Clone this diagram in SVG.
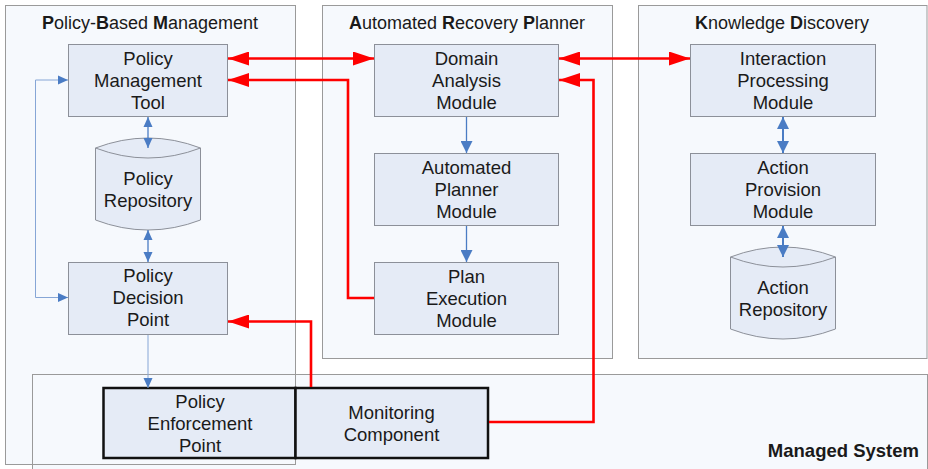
<svg xmlns="http://www.w3.org/2000/svg" width="928" height="469" viewBox="0 0 928 469">
<defs>
<style>
.cont{fill:#f6f9fd;stroke:#9a9a9a;stroke-width:1}
.contline{fill:none;stroke:#9a9a9a;stroke-width:1}
.box{fill:#e5ebf6;stroke:#8c9099;stroke-width:1}
.tbox{fill:#e5ebf6;stroke:#111;stroke-width:2.5}
.cyl{fill:#e5ebf6;stroke:#8c9099;stroke-width:1}
text{font-family:"Liberation Sans",Arial,sans-serif;font-size:18.5px;fill:#1a1a1a;text-anchor:middle}
.title{font-size:18px}
.b{font-weight:bold}
.red{fill:none;stroke:#ff0000;stroke-width:2.6}
.blue{fill:none;stroke:#4a7cc4;stroke-width:1.3}
.blue2{fill:none;stroke:#4a7cc4;stroke-width:2}
.lblue{fill:none;stroke:#86a6d6;stroke-width:1}
</style>
<marker id="rh" markerUnits="userSpaceOnUse" markerWidth="22" markerHeight="14" refX="21" refY="7" orient="auto-start-reverse" viewBox="0 0 22 14">
<path d="M0,0 L21,7 L0,14 Z" fill="#ff0000"/>
</marker>
<marker id="bh" markerUnits="userSpaceOnUse" markerWidth="10" markerHeight="10" refX="10" refY="5" orient="auto-start-reverse" viewBox="0 0 10 10">
<path d="M0,0.5 L10,5 L0,9.5 Z" fill="#4a7cc4"/>
</marker>
<marker id="bh2" markerUnits="userSpaceOnUse" markerWidth="12" markerHeight="12" refX="12" refY="6" orient="auto-start-reverse" viewBox="0 0 12 12">
<path d="M0,0 L12,6 L0,12 Z" fill="#4a7cc4"/>
</marker>
</defs>

<g id="containers">
<rect class="cont" x="5.5" y="5.5" width="290" height="459"/>
<rect class="cont" x="32.5" y="374.5" width="895" height="100"/>
<rect class="contline" x="5.5" y="5.5" width="290" height="459"/>
<rect class="cont" x="322.5" y="5.5" width="290" height="353"/>
<rect class="cont" x="638.5" y="5.5" width="288.5" height="353"/>
<text class="title" x="150" y="29"><tspan class="b">P</tspan>olicy-<tspan class="b">B</tspan>ased <tspan class="b">M</tspan>anagement</text>
<text class="title" x="467" y="29"><tspan class="b">A</tspan>utomated <tspan class="b">R</tspan>ecovery <tspan class="b">P</tspan>lanner</text>
<text class="title" x="782" y="29"><tspan class="b">K</tspan>nowledge <tspan class="b">D</tspan>iscovery</text>
<text class="b" x="919" y="457" style="text-anchor:end">Managed System</text>
</g>

<g id="pmt">
<rect class="box" x="68.5" y="44.5" width="159" height="72"/>
<text x="148" y="64.5">Policy</text>
<text x="148" y="86.5">Management</text>
<text x="148" y="108.5">Tool</text>
</g>

<g id="policy-repository">
<path class="cyl" d="M95.5,148 Q148,128 200.5,148 L200.5,220 Q148,240 95.5,220 Z"/>
<path class="cyl" style="fill:none" d="M95.5,148 Q148,168 200.5,148"/>
<text x="148" y="184.5">Policy</text>
<text x="148" y="206.5">Repository</text>
</g>

<g id="pdp">
<rect class="box" x="68.5" y="262.5" width="159" height="72"/>
<text x="148" y="281.5">Policy</text>
<text x="148" y="303.5">Decision</text>
<text x="148" y="326">Point</text>
</g>

<g id="dam">
<rect class="box" x="374.5" y="44.5" width="184" height="72"/>
<text x="466.5" y="64.5">Domain</text>
<text x="466.5" y="86.5">Analysis</text>
<text x="466.5" y="108.5">Module</text>
</g>

<g id="apm">
<rect class="box" x="374.5" y="153.5" width="184" height="72"/>
<text x="466.5" y="173.5">Automated</text>
<text x="466.5" y="195.5">Planner</text>
<text x="466.5" y="217.5">Module</text>
</g>

<g id="pem">
<rect class="box" x="374.5" y="262.5" width="184" height="72"/>
<text x="466.5" y="282.5">Plan</text>
<text x="466.5" y="304.5">Execution</text>
<text x="466.5" y="326.5">Module</text>
</g>

<g id="ipm">
<rect class="box" x="690.5" y="44.5" width="185" height="72"/>
<text x="783" y="64.5">Interaction</text>
<text x="783" y="86.5">Processing</text>
<text x="783" y="108.5">Module</text>
</g>

<g id="apvm">
<rect class="box" x="690.5" y="153.5" width="185" height="72"/>
<text x="783" y="173.5">Action</text>
<text x="783" y="195.5">Provision</text>
<text x="783" y="217.5">Module</text>
</g>

<g id="action-repository">
<path class="cyl" d="M730.5,257 Q783,237 835.5,257 L835.5,329 Q783,349 730.5,329 Z"/>
<path class="cyl" style="fill:none" d="M730.5,257 Q783,277 835.5,257"/>
<text x="783" y="293.5">Action</text>
<text x="783" y="315.5">Repository</text>
</g>

<g id="pep">
<rect class="tbox" x="103.5" y="388" width="192" height="70"/>
<text x="200" y="407.5">Policy</text>
<text x="200" y="429.5">Enforcement</text>
<text x="200" y="451.5">Point</text>
</g>

<g id="monitoring">
<rect class="tbox" x="295.5" y="388" width="192.5" height="70"/>
<text x="391.5" y="418.5">Monitoring</text>
<text x="391.5" y="440.5">Component</text>
</g>

<g id="connectors">
<path class="blue" d="M148,117 L148,148" marker-start="url(#bh)" marker-end="url(#bh)"/>
<path class="blue" d="M148,230 L148,262" marker-start="url(#bh)" marker-end="url(#bh)"/>
<path class="lblue" d="M68,80 L35.5,80 L35.5,297.5 L68,297.5" marker-start="url(#bh)" marker-end="url(#bh)"/>
<path class="lblue" d="M148,335 L148,388" marker-end="url(#bh)"/>
<path class="blue" d="M466.5,117 L466.5,153" marker-end="url(#bh2)"/>
<path class="blue" d="M466.5,226 L466.5,262" marker-end="url(#bh2)"/>
<path class="blue2" d="M783,117 L783,153" marker-start="url(#bh2)" marker-end="url(#bh2)"/>
<path class="blue2" d="M783,226 L783,257" marker-start="url(#bh2)" marker-end="url(#bh2)"/>
<path class="red" d="M228,58.5 L374,58.5" marker-start="url(#rh)" marker-end="url(#rh)"/>
<path class="red" d="M559,58.5 L690,58.5" marker-start="url(#rh)" marker-end="url(#rh)"/>
<path class="red" d="M374,298 L348,298 L348,80 L228,80" marker-end="url(#rh)"/>
<path class="red" d="M489,422 L593.5,422 L593.5,80 L559,80" marker-end="url(#rh)"/>
<path class="red" d="M311,387 L311,321.5 L228,321.5" marker-end="url(#rh)"/>
</g>
</svg>
